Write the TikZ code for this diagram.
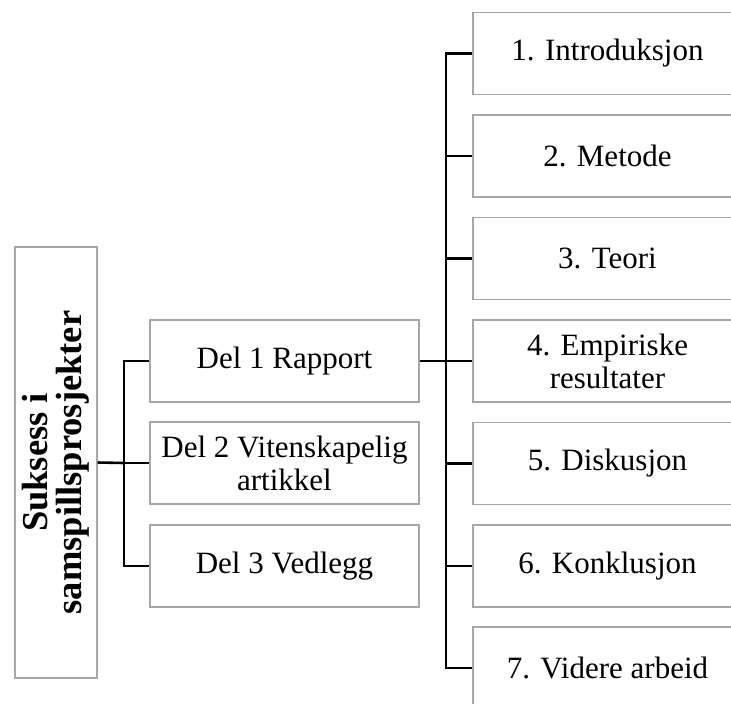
\documentclass[tikz,border=0pt]{standalone}
\usepackage{fontspec}
\setmainfont{Liberation Serif}
\begin{document}
\begin{tikzpicture}[x=1pt,y=-1pt,
  box/.style={draw=black!35, line width=1.2pt, minimum width=269pt, minimum height=82pt,
    inner sep=2pt, align=center, font=\fontsize{31}{33}\selectfont},
  rootbox/.style={draw=black!35, line width=1.2pt, rotate=90, minimum width=431pt,
    minimum height=82pt, inner sep=2pt, align=center,
    font=\fontsize{36.5}{34}\selectfont\bfseries},
  link/.style={draw=black, line width=2.6pt}]
\useasboundingbox (0,0) rectangle (731,704);

% root
\node[rootbox] (root) at (56,462.5) {Suksess i\\samspillsprosjekter};

% three parts
\node[box] (p1) at (284.5,361) {Del 1 Rapport};
\node[box] (p2) at (284.5,463) {Del 2 Vitenskapelig\\artikkel};
\node[box] (p3) at (284.5,566) {Del 3 Vedlegg};

% chapters of the report
\node[box] (c1) at (607.5,53.5) {1. Introduksjon};
\node[box] (c2) at (607.5,156) {2. Metode};
\node[box] (c3) at (607.5,258.5) {3. Teori};
\node[box] (c4) at (607.5,361) {4. Empiriske\\resultater};
\node[box] (c5) at (607.5,463.5) {5. Diskusjon};
\node[box] (c6) at (607.5,566) {6. Konklusjon};
\node[box] (c7) at (607.5,668) {7. Videre arbeid};

% connectors
\coordinate (ja) at (124,463);
\coordinate (jb) at (446,361);
\draw[link] (root.south) -- (ja);
\foreach \n in {p1,p2,p3} \draw[link] (ja) |- (\n.west);
\draw[link] (p1.east) -- (jb);
\foreach \n in {c1,c2,c3,c4,c5,c6,c7} \draw[link] (jb) |- (\n.west);
\end{tikzpicture}
\end{document}
